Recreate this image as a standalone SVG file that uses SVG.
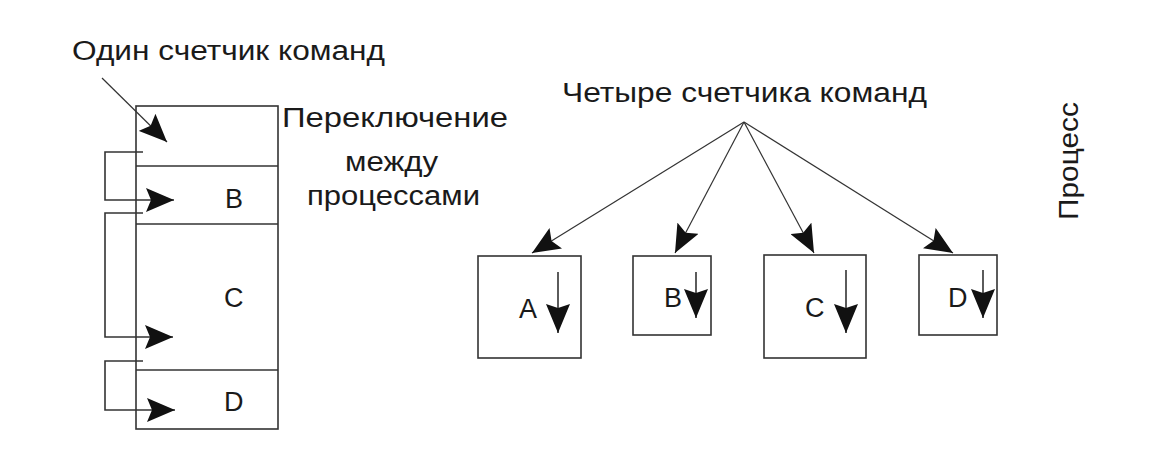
<svg xmlns="http://www.w3.org/2000/svg" width="1158" height="476" viewBox="0 0 1158 476">
  <style>
    .t { font-family: "Liberation Sans", Arial, sans-serif; font-size: 27px; fill: #1a1a1a; }
    .big { font-size: 27px; }
    .box { fill: #fff; stroke: #333; stroke-width: 1.6; }
    .ln { fill: none; stroke: #333; stroke-width: 1.6; }
    .thin { fill: none; stroke: #333; stroke-width: 1.2; }
  </style>
  <defs>
    <marker id="ah" viewBox="0 0 28 24" refX="28" refY="12" markerWidth="28" markerHeight="24" markerUnits="userSpaceOnUse" orient="auto">
      <path d="M0,0 L28,12 L0,24 L5,12 z" fill="#111"/>
    </marker>
    <marker id="ahv" viewBox="0 0 29 24" refX="29" refY="12" markerWidth="29" markerHeight="24" markerUnits="userSpaceOnUse" orient="auto">
      <path d="M0,0 L29,12 L0,24 L4,12 z" fill="#111"/>
    </marker>
  </defs>
  <rect width="1158" height="476" fill="#fff"/>

  <g id="label-one">
    <text class="t big" x="72" y="60" textLength="313" lengthAdjust="spacingAndGlyphs">Один счетчик команд</text>
  </g>
  <g id="label-switch">
    <text class="t big" x="282" y="127" textLength="226" lengthAdjust="spacingAndGlyphs">Переключение</text>
    <text class="t big" x="345" y="171" textLength="93" lengthAdjust="spacingAndGlyphs">между</text>
    <text class="t big" x="307" y="205" textLength="173" lengthAdjust="spacingAndGlyphs">процессами</text>
  </g>
  <g id="left-block">
    <rect class="box" x="136" y="106" width="142" height="323"/>
    <line class="ln" x1="136" y1="166" x2="278" y2="166"/>
    <line class="ln" x1="136" y1="224" x2="278" y2="224"/>
    <line class="ln" x1="136" y1="370" x2="278" y2="370"/>
    <text class="t" x="225" y="208">B</text>
    <text class="t" x="224" y="307">C</text>
    <text class="t" x="224" y="411">D</text>
  </g>
  <g id="label-four">
    <text class="t big" x="562" y="102" textLength="365" lengthAdjust="spacingAndGlyphs">Четыре счетчика команд</text>
  </g>
  <g id="label-process">
    <text class="t big" transform="translate(1078,220) rotate(-90)" textLength="118" lengthAdjust="spacingAndGlyphs">Процесс</text>
  </g>
  <g id="proc-a">
    <rect class="box" x="478" y="256" width="103" height="102"/>
    <text class="t" x="519" y="318">A</text>
    <line class="ln" x1="558" y1="272" x2="558" y2="333" marker-end="url(#ahv)"/>
  </g>
  <g id="proc-b">
    <rect class="box" x="633" y="256" width="78" height="79"/>
    <text class="t" x="664" y="307">B</text>
    <line class="ln" x1="696" y1="272" x2="696" y2="318" marker-end="url(#ahv)"/>
  </g>
  <g id="proc-c">
    <rect class="box" x="764" y="255" width="102" height="103"/>
    <text class="t" x="805" y="317">C</text>
    <line class="ln" x1="846" y1="270" x2="846" y2="333" marker-end="url(#ahv)"/>
  </g>
  <g id="proc-d">
    <rect class="box" x="919" y="255" width="78" height="80"/>
    <text class="t" x="948" y="307">D</text>
    <line class="ln" x1="983" y1="270" x2="983" y2="318" marker-end="url(#ahv)"/>
  </g>

  <g id="connectors">
    <line class="thin" x1="102" y1="78" x2="167" y2="142" marker-end="url(#ah)"/>
    <polyline class="ln" points="143,152 105,152 105,200 174,200" marker-end="url(#ah)"/>
    <polyline class="ln" points="143,213 105,213 105,337 173,337" marker-end="url(#ah)"/>
    <polyline class="ln" points="143,361 105,361 105,410 175,410" marker-end="url(#ah)"/>
    <line class="thin" x1="744" y1="122" x2="532" y2="253" marker-end="url(#ah)"/>
    <line class="thin" x1="744" y1="122" x2="675" y2="253" marker-end="url(#ah)"/>
    <line class="thin" x1="744" y1="122" x2="814" y2="253" marker-end="url(#ah)"/>
    <line class="thin" x1="744" y1="122" x2="953" y2="253" marker-end="url(#ah)"/>
  </g>
</svg>
